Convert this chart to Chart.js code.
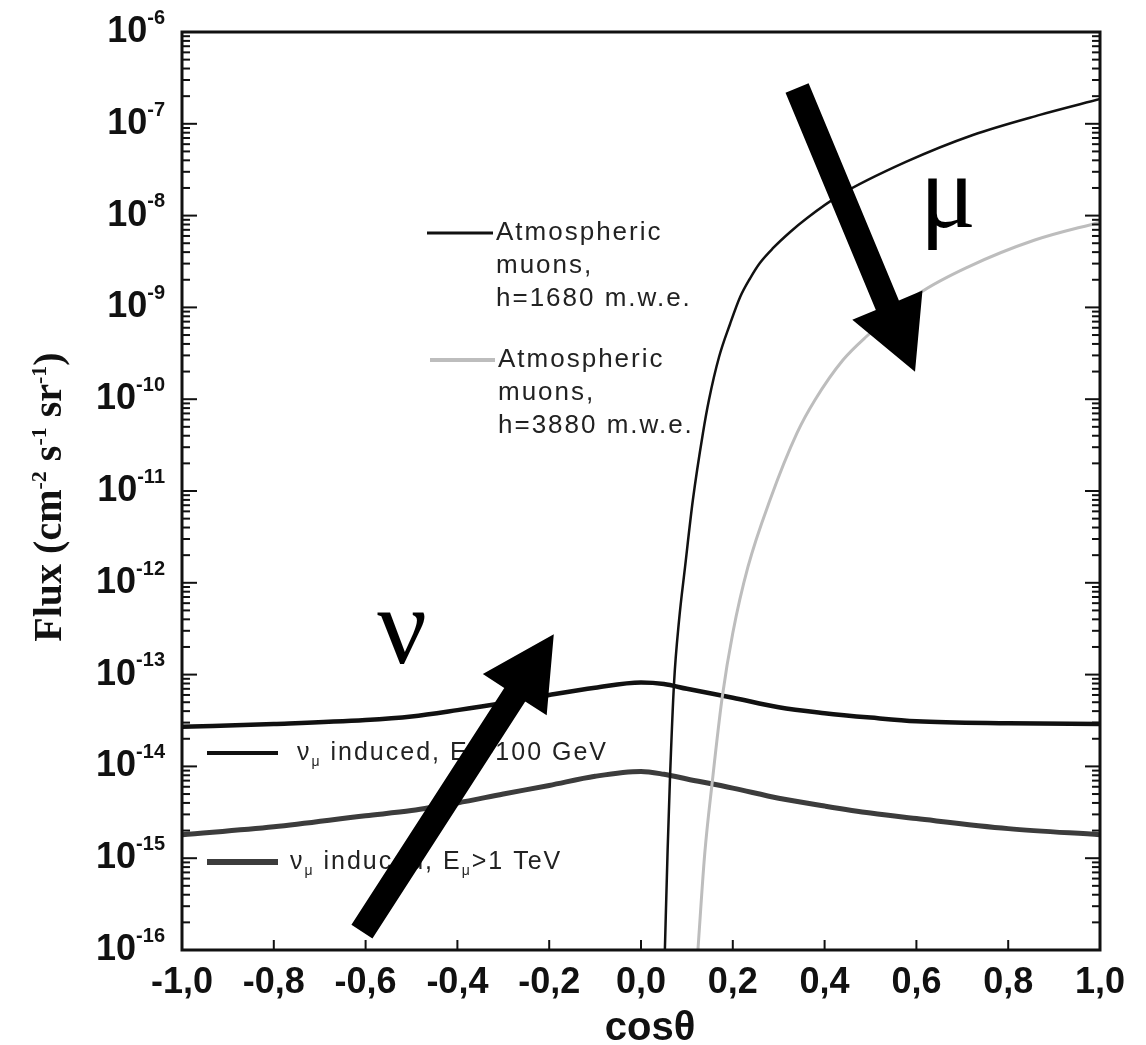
<!DOCTYPE html>
<html>
<head>
<meta charset="utf-8">
<script src="https://cdn.jsdelivr.net/npm/chart.js@4.4.0/dist/chart.umd.min.js"></script>
<style>
body { margin: 0; background: #fff; }
#wrap { width: 1146px; height: 1045px; }
</style>
</head>
<body>
<div id="wrap"><canvas id="myChart" width="1146" height="1045"></canvas></div>
<script>
// values (x = cos theta, y = flux in cm^-2 s^-1 sr^-1)
var nuX = [-1.0, -0.8, -0.6, -0.5, -0.4, -0.3, -0.2, -0.1, 0.0, 0.05, 0.1, 0.2, 0.3, 0.4, 0.5, 0.6, 0.8, 1.0];
var nu100GeV = [2.7e-14, 2.9e-14, 3.2e-14, 3.5e-14, 4.1e-14, 4.9e-14, 6.0e-14, 7.2e-14, 8.2e-14, 7.9e-14, 7.0e-14, 5.6e-14, 4.4e-14, 3.8e-14, 3.4e-14, 3.1e-14, 2.95e-14, 2.9e-14];
var nu1TeV = [1.8e-15, 2.2e-15, 2.9e-15, 3.3e-15, 4.0e-15, 5.0e-15, 6.2e-15, 7.8e-15, 8.8e-15, 8.2e-15, 7.3e-15, 5.8e-15, 4.5e-15, 3.7e-15, 3.1e-15, 2.7e-15, 2.1e-15, 1.8e-15];

var mu1680X = [0.052, 0.058, 0.063, 0.072, 0.083, 0.096, 0.113, 0.135, 0.148, 0.170, 0.194, 0.216, 0.238, 0.259, 0.288, 0.325, 0.362, 0.434, 0.577, 0.723, 0.869, 1.0];
var mu1680 = [1e-16, 1.23e-15, 7.1e-15, 8.1e-14, 3.94e-13, 1.49e-12, 7.98e-12, 4.29e-11, 9.8e-11, 2.88e-10, 6.6e-10, 1.30e-9, 2.09e-9, 3.05e-9, 4.44e-9, 6.63e-9, 9.42e-9, 1.68e-8, 3.84e-8, 7.55e-8, 1.25e-7, 1.86e-7];

var mu3880X = [0.124, 0.139, 0.155, 0.177, 0.200, 0.233, 0.281, 0.340, 0.379, 0.440, 0.490, 0.608, 0.712, 0.858, 1.0];
var mu3880 = [1e-16, 1.14e-15, 6.6e-15, 5.7e-14, 2.84e-13, 1.49e-12, 7.98e-12, 4.29e-11, 9.8e-11, 2.67e-10, 4.76e-10, 1.44e-9, 2.75e-9, 5.42e-9, 8.5e-9];

var xTicks = [-1.0, -0.8, -0.6, -0.4, -0.2, 0.0, 0.2, 0.4, 0.6, 0.8, 1.0];
var yExps = [-16, -15, -14, -13, -12, -11, -10, -9, -8, -7, -6];

// big arrows, in data units: [x tail, y tail, x tip, y tip]
var muArrow = [0.340, Math.pow(10, -6.61), 0.597, Math.pow(10, -9.70)];
var nuArrow = [-0.608, Math.pow(10, -15.80), -0.190, Math.pow(10, -12.56)];

function pts(xs, ys) {
    return xs.map(function (x, i) { return { x: x, y: ys[i] }; });
}

// draws text with super/subscripts, returns width
function drawRich(ctx, parts, x, y, base, weight, family, measureOnly) {
    var cx = x;
    parts.forEach(function (p) {
        var size = p[1] == 0 ? base : Math.round(base * 0.56);
        ctx.font = weight + " " + size + "px " + family;
        var dy = p[1] == 1 ? -base * 0.38 : (p[1] == -1 ? base * 0.36 : 0);
        if (!measureOnly) ctx.fillText(p[0], cx, y + dy);
        cx += ctx.measureText(p[0]).width;
    });
    return cx - x;
}

function seg(ctx, x1, y1, x2, y2) {
    ctx.beginPath();
    ctx.moveTo(x1, y1);
    ctx.lineTo(x2, y2);
    ctx.stroke();
}

function arrow(ctx, x1, y1, x2, y2, shaftW, headW, headL) {
    var dx = x2 - x1, dy = y2 - y1;
    var len = Math.sqrt(dx * dx + dy * dy);
    var ux = dx / len, uy = dy / len;
    var nx = -uy, ny = ux;
    var bx = x2 - ux * headL, by = y2 - uy * headL;
    ctx.beginPath();
    ctx.moveTo(x1 + nx * shaftW / 2, y1 + ny * shaftW / 2);
    ctx.lineTo(bx + nx * shaftW / 2, by + ny * shaftW / 2);
    ctx.lineTo(bx + nx * headW / 2, by + ny * headW / 2);
    ctx.lineTo(x2, y2);
    ctx.lineTo(bx - nx * headW / 2, by - ny * headW / 2);
    ctx.lineTo(bx - nx * shaftW / 2, by - ny * shaftW / 2);
    ctx.lineTo(x1 - nx * shaftW / 2, y1 - ny * shaftW / 2);
    ctx.closePath();
    ctx.fill();
}

var decor = {
    id: 'decor',
    afterDatasetsDraw: function (chart) {
        var ctx = chart.ctx;
        var xs = chart.scales.x, ys = chart.scales.y;
        var a = chart.chartArea;
        ctx.save();

        // frame
        ctx.strokeStyle = "#111";
        ctx.lineWidth = 3;
        ctx.strokeRect(a.left, a.top, a.right - a.left, a.bottom - a.top);

        // inward log ticks left and right
        ctx.lineWidth = 2;
        yExps.forEach(function (e) {
            for (var k = 1; k <= 9; k++) {
                if (e == yExps[yExps.length - 1] && k > 1) break;
                var py = ys.getPixelForValue(k * Math.pow(10, e));
                var len = k == 1 ? 15 : 8;
                seg(ctx, a.left, py, a.left + len, py);
                seg(ctx, a.right, py, a.right - len, py);
            }
        });
        xTicks.forEach(function (v) {
            var px = xs.getPixelForValue(v);
            seg(ctx, px, a.bottom, px, a.bottom - 10);
        });

        // tick labels
        ctx.fillStyle = "#111";
        ctx.textBaseline = "middle";
        ctx.textAlign = "left";
        yExps.forEach(function (e) {
            var parts = [["10", 0], [String(e), 1]];
            var w = drawRich(ctx, parts, 0, 0, 36, "bold", "'Liberation Sans', Arial", true);
            drawRich(ctx, parts, a.left - 17 - w, ys.getPixelForValue(Math.pow(10, e)), 36, "bold", "'Liberation Sans', Arial");
        });
        ctx.textAlign = "center";
        ctx.font = "bold 36px 'Liberation Sans', Arial";
        xTicks.forEach(function (v) {
            var s = (Math.abs(v) < 1e-9 ? 0 : v).toFixed(1).replace(".", ",");
            ctx.fillText(s, xs.getPixelForValue(v), a.bottom + 33);
        });

        // axis titles
        ctx.textBaseline = "alphabetic";
        ctx.font = "bold 40px 'Liberation Sans', Arial";
        ctx.fillText("cos\u03b8", 650, 1040);

        ctx.textAlign = "left";
        var yParts = [["Flux (cm", 0], ["-2", 1], [" s", 0], ["-1", 1], [" sr", 0], ["-1", 1], [")", 0]];
        var yw = drawRich(ctx, yParts, 0, 0, 40, "bold", "'Liberation Serif', 'Times New Roman'", true);
        ctx.save();
        ctx.translate(61, 497);
        ctx.rotate(-Math.PI / 2);
        drawRich(ctx, yParts, -yw / 2, 0, 40, "bold", "'Liberation Serif', 'Times New Roman'");
        ctx.restore();

        // legends inside the plot
        var lf = "'Liberation Sans', Arial";
        ctx.textBaseline = "middle";
        ctx.fillStyle = "#222";
        ctx.lineCap = "butt";
        ctx.strokeStyle = "#111"; ctx.lineWidth = 3;
        seg(ctx, 427, 233, 493, 233);
        ctx.strokeStyle = "#bdbdbd"; ctx.lineWidth = 4;
        seg(ctx, 430, 360, 495, 360);
        ctx.letterSpacing = "2px";
        ctx.font = "26px " + lf;
        ["Atmospheric", "muons,", "h=1680 m.w.e."].forEach(function (t, i) {
            ctx.fillText(t, 496, 233 + i * 33);
        });
        ["Atmospheric", "muons,", "h=3880 m.w.e."].forEach(function (t, i) {
            ctx.fillText(t, 498, 360 + i * 33);
        });

        ctx.strokeStyle = "#111"; ctx.lineWidth = 4;
        seg(ctx, 207, 753, 278, 753);
        ctx.strokeStyle = "#3c3c3c"; ctx.lineWidth = 6;
        seg(ctx, 207, 862, 278, 862);
        drawRich(ctx, [["\u03bd", 0], ["\u03bc", -1], [" induced, E", 0], ["\u03bc", -1], [">100 GeV", 0]], 297, 753, 25, "normal", lf);
        drawRich(ctx, [["\u03bd", 0], ["\u03bc", -1], [" induced, E", 0], ["\u03bc", -1], [">1 TeV", 0]], 290, 862, 25, "normal", lf);
        ctx.letterSpacing = "0px";

        // greek labels
        ctx.fillStyle = "#000";
        ctx.textAlign = "center";
        ctx.textBaseline = "alphabetic";
        ctx.font = "105px 'Liberation Serif', 'Times New Roman'";
        ctx.fillText("\u03bc", 948, 227);
        ctx.font = "110px 'Liberation Serif', 'Times New Roman'";
        ctx.fillText("\u03bd", 402, 663);

        // big arrows
        [muArrow, nuArrow].forEach(function (ar) {
            arrow(ctx, xs.getPixelForValue(ar[0]), ys.getPixelForValue(ar[1]),
                xs.getPixelForValue(ar[2]), ys.getPixelForValue(ar[3]), 25, 76, 72);
        });

        ctx.restore();
    }
};

var canvas = document.getElementById("myChart");
var myChart = new Chart(canvas.getContext("2d"), {
    type: 'scatter',
    data: {
        datasets: [{
            label: 'Atmospheric muons, h=1680 m.w.e.',
            data: pts(mu1680X, mu1680),
            borderColor: '#111',
            borderWidth: 2.5
        }, {
            label: 'Atmospheric muons, h=3880 m.w.e.',
            data: pts(mu3880X, mu3880),
            borderColor: '#bdbdbd',
            borderWidth: 3
        }, {
            label: 'nu_mu induced, E_mu>100 GeV',
            data: pts(nuX, nu100GeV),
            borderColor: '#111',
            borderWidth: 4.5
        }, {
            label: 'nu_mu induced, E_mu>1 TeV',
            data: pts(nuX, nu1TeV),
            borderColor: '#3c3c3c',
            borderWidth: 5
        }]
    },
    options: {
        responsive: false,
        animation: false,
        showLine: true,
        elements: {
            point: { radius: 0, hoverRadius: 0 },
            line: { cubicInterpolationMode: 'monotone', fill: false }
        },
        layout: { padding: { left: 182, right: 46, top: 32, bottom: 95 } },
        plugins: {
            legend: { display: false },
            tooltip: { enabled: false }
        },
        scales: {
            x: { type: 'linear', min: -1, max: 1, display: false },
            y: { type: 'logarithmic', min: 1e-16, max: 1e-6, display: false }
        }
    },
    plugins: [decor]
});
</script>
</body>
</html>
